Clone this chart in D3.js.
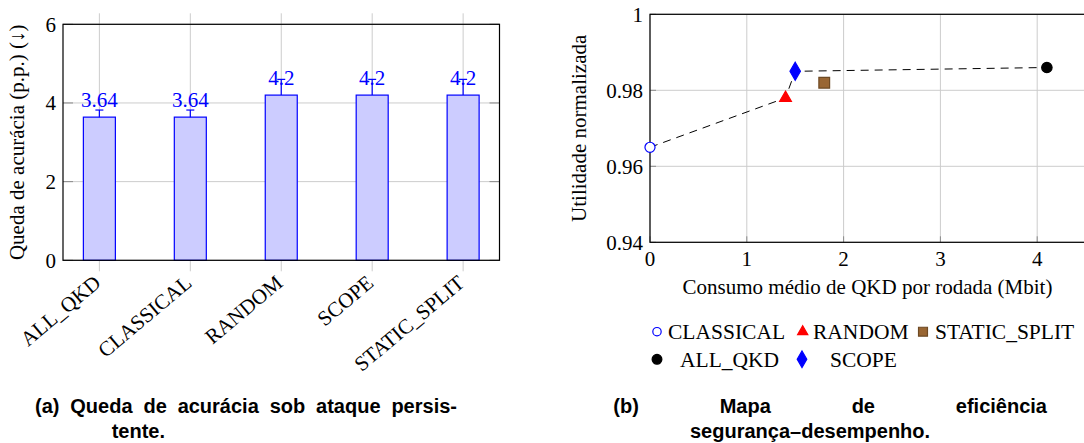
<!DOCTYPE html>
<html>
<head>
<meta charset="utf-8">
<script src="https://cdn.jsdelivr.net/npm/d3@7"></script>
<style>
  body { margin: 0; background: #fff; }
  svg { display: block; }
  text { font-family: "Liberation Serif", "Times New Roman", serif; }
  .cap { font-family: "Liberation Sans", Arial, sans-serif; font-weight: bold; font-size: 20px; }
</style>
</head>
<body>
<div id="chart"></div>
<script>
/**
 * DATA
 * */
const categories = ["ALL_QKD", "CLASSICAL", "RANDOM", "SCOPE", "STATIC_SPLIT"];
const accuracyDrop = [3.64, 3.64, 4.2, 4.2, 4.2];
const accuracyErr = [0.18, 0.18, 0.4, 0.4, 0.4];
const dropTicks = [0, 2, 4, 6];

const methods = ["CLASSICAL", "RANDOM", "STATIC_SPLIT", "ALL_QKD", "SCOPE"];
const qkdMbit = [0, 1.4, 1.8, 4.1, 1.5];
const utility = [0.965, 0.978, 0.982, 0.986, 0.985];
const frontier = ["CLASSICAL", "RANDOM", "SCOPE", "ALL_QKD"];
const qkdTicks = [0, 1, 2, 3, 4];
const utilTicks = [0.94, 0.96, 0.98, 1];

/**
 * CONSTANTS
 * */
const width = 1084, height = 443;
const gridColor = "#cccccc", tickColor = "#8a8a8a";
const fs = 21;
const serif = "'Liberation Serif', 'Times New Roman', serif";

const svg = d3.select("#chart").append("svg")
  .attr("width", width)
  .attr("height", height);

/**
 * (a) BAR CHART
 * */
const a = { left: 63, right: 499.5, top: 24.3, bottom: 260.3 };
const xA = d3.scalePoint().domain(categories).range([a.left, a.right]).padding(0.4);
const yA = d3.scaleLinear().domain([0, 6]).range([a.bottom, a.top]);
const barW = 32;

const gA = svg.append("g").attr("font-family", serif);

// grid
gA.selectAll(".hgrid").data(dropTicks).join("line")
  .attr("x1", a.left).attr("x2", a.right)
  .attr("y1", d => yA(d)).attr("y2", d => yA(d))
  .attr("stroke", gridColor);
gA.selectAll(".ytickL").data(dropTicks).join("line")
  .attr("x1", a.left).attr("x2", a.left + 10)
  .attr("y1", d => yA(d)).attr("y2", d => yA(d))
  .attr("stroke", tickColor);
gA.selectAll(".ytickR").data(dropTicks).join("line")
  .attr("x1", a.right - 10).attr("x2", a.right)
  .attr("y1", d => yA(d)).attr("y2", d => yA(d))
  .attr("stroke", tickColor);
gA.selectAll(".vgrid").data(categories).join("line")
  .attr("x1", d => xA(d)).attr("x2", d => xA(d))
  .attr("y1", a.top - 11).attr("y2", a.bottom + 11)
  .attr("stroke", gridColor);

// bars
gA.selectAll(".bar").data(categories).join("rect")
  .attr("x", d => xA(d) - barW / 2)
  .attr("width", barW)
  .attr("y", (d, i) => yA(accuracyDrop[i]))
  .attr("height", (d, i) => yA(0) - yA(accuracyDrop[i]))
  .attr("fill", "#ccccff")
  .attr("stroke", "#0000ff")
  .attr("stroke-width", 1.2);

// error bars
gA.selectAll(".err").data(categories).join("line")
  .attr("x1", d => xA(d)).attr("x2", d => xA(d))
  .attr("y1", (d, i) => yA(accuracyDrop[i]))
  .attr("y2", (d, i) => yA(accuracyDrop[i] + accuracyErr[i]))
  .attr("stroke", "#0000ff").attr("stroke-width", 1.2);
gA.selectAll(".whisker").data(categories).join("line")
  .attr("x1", d => xA(d) - 4).attr("x2", d => xA(d) + 4)
  .attr("y1", (d, i) => yA(accuracyDrop[i] + accuracyErr[i]))
  .attr("y2", (d, i) => yA(accuracyDrop[i] + accuracyErr[i]))
  .attr("stroke", "#0000ff").attr("stroke-width", 1.2);

// value labels
gA.selectAll(".val").data(categories).join("text")
  .attr("x", d => xA(d))
  .attr("y", (d, i) => yA(accuracyDrop[i]) - 10.5)
  .attr("text-anchor", "middle")
  .attr("font-size", fs)
  .attr("fill", "#0000ff")
  .text((d, i) => accuracyDrop[i]);

// frame
gA.append("rect")
  .attr("x", a.left).attr("y", a.top)
  .attr("width", a.right - a.left).attr("height", a.bottom - a.top)
  .attr("fill", "none").attr("stroke", "#000").attr("stroke-width", 1.2);

// tick labels
gA.selectAll(".ylab").data(dropTicks).join("text")
  .attr("x", a.left - 7).attr("y", d => yA(d))
  .attr("dy", "0.35em")
  .attr("text-anchor", "end")
  .attr("font-size", fs)
  .text(d => d);
gA.selectAll(".xlab").data(categories).join("text")
  .attr("text-anchor", "end")
  .attr("dy", "0.35em")
  .attr("font-size", fs)
  .attr("transform", d => `translate(${xA(d) - 2},${a.bottom + 19}) rotate(-40)`)
  .text(d => d);

gA.append("text")
  .attr("transform", `translate(24,${(a.top + a.bottom) / 2}) rotate(-90)`)
  .attr("text-anchor", "middle")
  .attr("font-size", fs)
  .text("Queda de acurácia (p.p.) (↓)");

/**
 * (b) SCATTER
 * */
const b = { left: 650, right: 1085.6, top: 14.3, bottom: 242.3 };
const xB = d3.scaleLinear().domain([0, 4.5]).range([b.left, b.right]);
const yB = d3.scaleLinear().domain([0.94, 1]).range([b.bottom, b.top]);

const gB = svg.append("g").attr("font-family", serif);

gB.selectAll(".hg").data(utilTicks).join("line")
  .attr("x1", b.left).attr("x2", b.right)
  .attr("y1", d => yB(d)).attr("y2", d => yB(d))
  .attr("stroke", gridColor);
gB.selectAll(".vg").data(qkdTicks).join("line")
  .attr("x1", d => xB(d)).attr("x2", d => xB(d))
  .attr("y1", b.top).attr("y2", b.bottom)
  .attr("stroke", gridColor);
gB.selectAll(".tk").data(qkdTicks).join("line")
  .attr("x1", d => xB(d)).attr("x2", d => xB(d))
  .attr("y1", b.bottom - 6).attr("y2", b.bottom)
  .attr("stroke", tickColor);
gB.selectAll(".tk2").data(utilTicks).join("line")
  .attr("x1", b.left).attr("x2", b.left + 6)
  .attr("y1", d => yB(d)).attr("y2", d => yB(d))
  .attr("stroke", tickColor);

gB.append("rect")
  .attr("x", b.left).attr("y", b.top)
  .attr("width", b.right - b.left).attr("height", b.bottom - b.top)
  .attr("fill", "none").attr("stroke", "#000").attr("stroke-width", 1.2);

// frontier
const pt = name => {
  const i = methods.indexOf(name);
  return [xB(qkdMbit[i]), yB(utility[i])];
};
gB.append("path")
  .attr("d", d3.line()(frontier.map(pt)))
  .attr("fill", "none")
  .attr("stroke", "#000")
  .attr("stroke-width", 1)
  .attr("stroke-dasharray", "8,6");

const markers = {
  CLASSICAL: { shape: d3.symbolCircle, size: 80, fill: "#fff", stroke: "#0000ff" },
  RANDOM: { shape: d3.symbolTriangle, size: 60, fill: "#ff0000", stroke: "#ff0000" },
  STATIC_SPLIT: { shape: d3.symbolSquare, size: 115, fill: "#996633", stroke: "#6e4a24" },
  ALL_QKD: { shape: d3.symbolCircle, size: 85, fill: "#000", stroke: "#000" },
  SCOPE: { shape: d3.symbolDiamond, size: 95, fill: "#0000ff", stroke: "#0000ff" }
};

gB.selectAll(".pt").data(methods).join("path")
  .attr("transform", d => `translate(${pt(d)[0]},${pt(d)[1]})`)
  .attr("d", d => d3.symbol(markers[d].shape, markers[d].size)())
  .attr("fill", d => markers[d].fill)
  .attr("stroke", d => markers[d].stroke)
  .attr("stroke-width", 1.2);

gB.selectAll(".ylb").data(utilTicks).join("text")
  .attr("x", b.left - 7).attr("y", d => yB(d))
  .attr("dy", "0.35em")
  .attr("text-anchor", "end")
  .attr("font-size", fs)
  .text(d => d);
gB.selectAll(".xlb").data(qkdTicks).join("text")
  .attr("x", d => xB(d)).attr("y", b.bottom + 16)
  .attr("dy", "0.35em")
  .attr("text-anchor", "middle")
  .attr("font-size", fs)
  .text(d => d);

gB.append("text")
  .attr("x", 867.5).attr("y", 287)
  .attr("dy", "0.35em")
  .attr("text-anchor", "middle")
  .attr("font-size", fs)
  .text("Consumo médio de QKD por rodada (Mbit)");
gB.append("text")
  .attr("transform", `translate(586,${(b.top + b.bottom) / 2}) rotate(-90)`)
  .attr("text-anchor", "middle")
  .attr("font-size", fs)
  .text("Utilidade normalizada");

// legend
const legendPos = {
  CLASSICAL: [657, 331.7, 668],
  RANDOM: [802.7, 331.7, 813],
  STATIC_SPLIT: [923, 331.7, 935],
  ALL_QKD: [657, 359.3, 680],
  SCOPE: [802, 359.3, 830]
};
const legendSize = { CLASSICAL: 55, RANDOM: 45, STATIC_SPLIT: 80, ALL_QKD: 75, SCOPE: 80 };
const lg = gB.selectAll(".lg").data(methods).join("g");
lg.append("path")
  .attr("transform", d => `translate(${legendPos[d][0]},${legendPos[d][1]})`)
  .attr("d", d => d3.symbol(markers[d].shape, legendSize[d])())
  .attr("fill", d => markers[d].fill)
  .attr("stroke", d => markers[d].stroke)
  .attr("stroke-width", 1.2);
lg.append("text")
  .attr("x", d => legendPos[d][2]).attr("y", d => legendPos[d][1])
  .attr("dy", "0.35em")
  .attr("font-size", 21.5)
  .text(d => d);

/**
 * CAPTIONS
 * */
function justify(words, x0, x1, y) {
  const nodes = words.map(w => svg.append("text").attr("class", "cap").attr("y", y).text(w));
  const widths = nodes.map(n => n.node().getComputedTextLength());
  const gap = (x1 - x0 - d3.sum(widths)) / (words.length - 1);
  let x = x0;
  nodes.forEach((n, i) => { n.attr("x", x); x += widths[i] + gap; });
}
justify(["(a)", "Queda", "de", "acurácia", "sob", "ataque", "persis-"], 35, 457, 413.3);
svg.append("text").attr("class", "cap").attr("x", 111.7).attr("y", 438.3).text("tente.");
justify(["(b)", "Mapa", "de", "eficiência"], 613.3, 1047, 413.3);
svg.append("text").attr("class", "cap").attr("x", 690).attr("y", 438.3).text("segurança–desempenho.");
</script>
</body>
</html>
